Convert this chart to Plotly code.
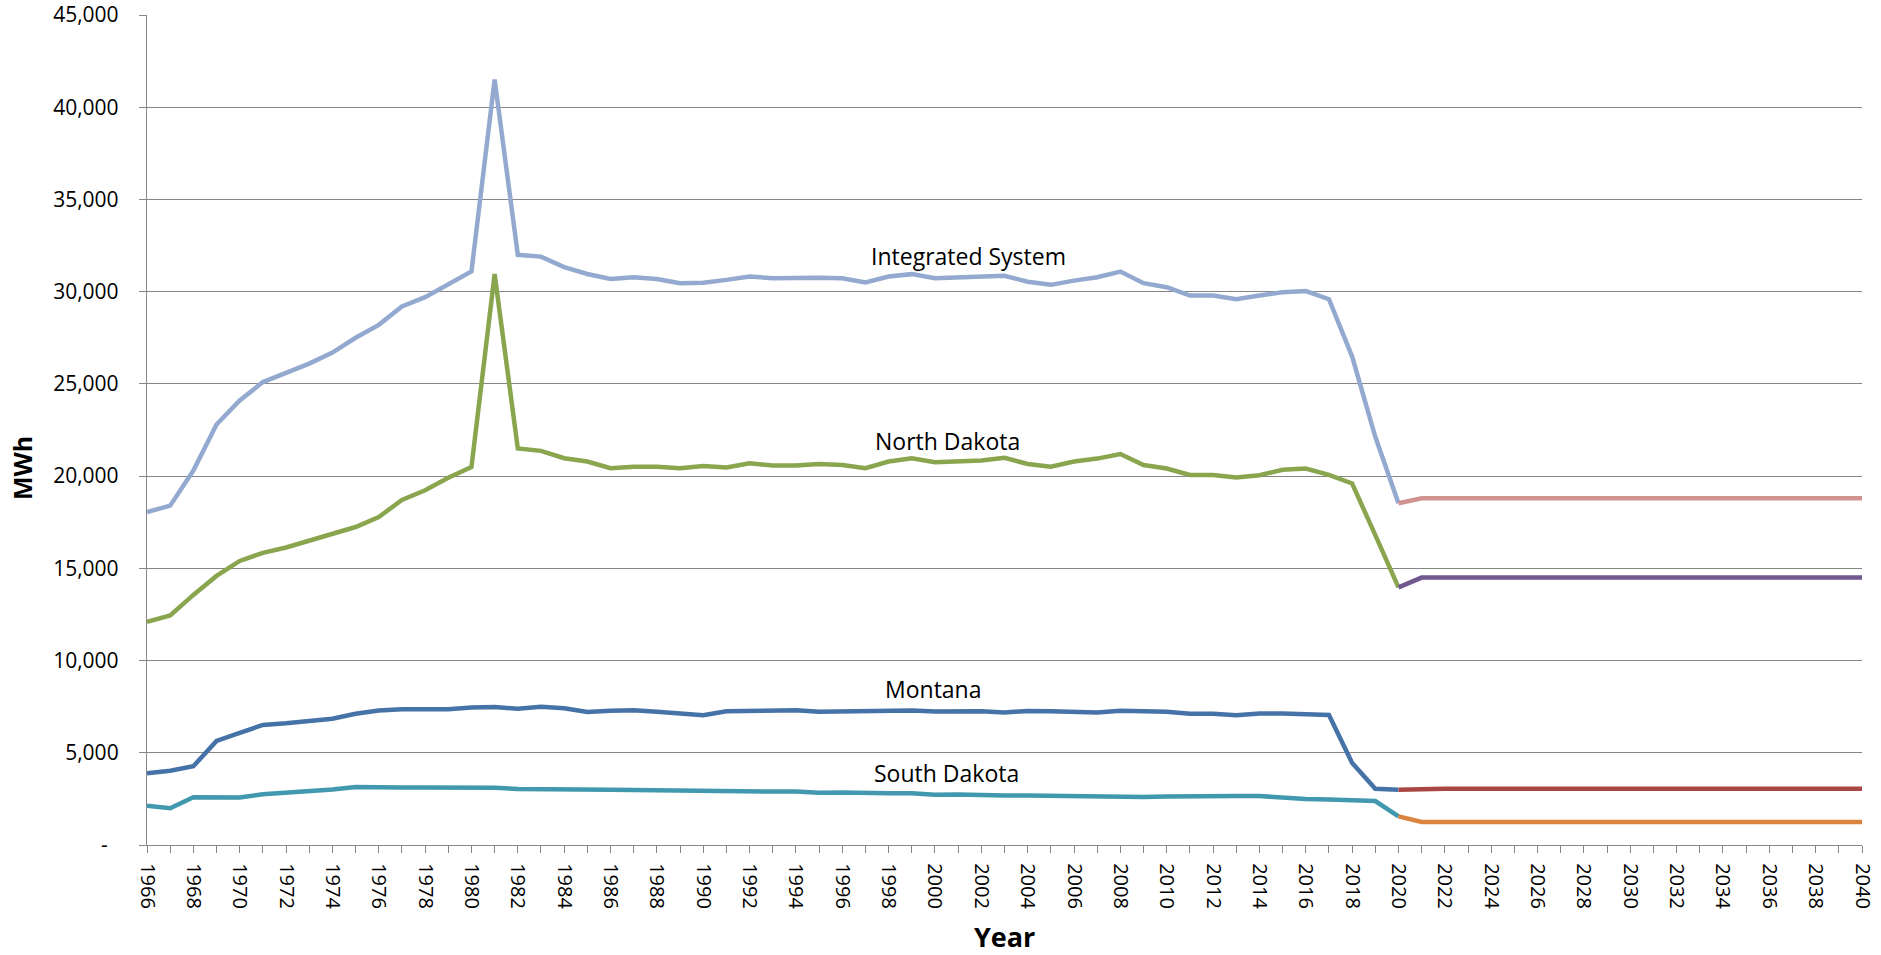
import plotly.graph_objects as go

# ---------------- data ----------------
years_hist = list(range(1966, 2021))
years_proj = list(range(2020, 2041))

integrated_system = [
    18050, 18400, 20300, 22800, 24100, 25100, 25600, 26100, 26700, 27500,
    28200, 29200, 29700, 30400, 31100, 41500, 32000, 31900, 31330, 30960,
    30690, 30780, 30690, 30460, 30480, 30640, 30820, 30730, 30760, 30760,
    30730, 30500, 30820, 30950, 30730, 30780, 30800, 30860, 30540, 30370,
    30600, 30780, 31090, 30460, 30240, 29790, 29790, 29590, 29790, 29970,
    30030, 29590, 26480, 22130, 18530]
north_dakota = [
    12100, 12450, 13560, 14590, 15400, 15840, 16130, 16520, 16850, 17240,
    17780, 18710, 19230, 19910, 20490, 30950, 21500, 21370, 20970, 20790,
    20430, 20510, 20510, 20430, 20550, 20470, 20690, 20570, 20570, 20660,
    20600, 20430, 20790, 20970, 20750, 20800, 20850, 20990, 20660, 20510,
    20790, 20950, 21200, 20600, 20410, 20060, 20060, 19920, 20050, 20340,
    20410, 20070, 19600, 16800, 13970]
montana = [
    3890, 4030, 4270, 5640, 6080, 6510, 6600, 6700, 6850, 7120,
    7290, 7360, 7360, 7360, 7460, 7480, 7390, 7490, 7410, 7210,
    7280, 7300, 7230, 7100, 7030, 7250, 7270, 7270, 7300, 7230,
    7240, 7260, 7320, 7290, 7240, 7260, 7250, 7190, 7270, 7250,
    7220, 7190, 7280, 7280, 7230, 7110, 7120, 7030, 7130, 7130,
    7120, 7050, 4450, 3050, 3000]
south_dakota = [
    2130, 1990, 2590, 2610, 2570, 2750, 2840, 2880, 3010, 3140,
    3110, 3120, 3120, 3120, 3140, 3100, 3040, 3020, 2970, 2970,
    2990, 2980, 2960, 2930, 2930, 2950, 2910, 2900, 2900, 2830,
    2850, 2810, 2800, 2810, 2720, 2740, 2690, 2690, 2680, 2660,
    2620, 2640, 2630, 2600, 2630, 2620, 2620, 2650, 2650, 2560,
    2500, 2470, 2450, 2380, 1550]

integrated_system_proj = [18530, 18800, 18800, 18800, 18800, 18800, 18800,
                          18800, 18800, 18800, 18800, 18800, 18800, 18800,
                          18800, 18800, 18800, 18800, 18800, 18800, 18800]
north_dakota_proj = [13970, 14500, 14500, 14500, 14500, 14500, 14500,
                     14500, 14500, 14500, 14500, 14500, 14500, 14500,
                     14500, 14500, 14500, 14500, 14500, 14500, 14500]
montana_proj = [3000, 3050, 3050, 3050, 3050, 3050, 3050,
                3050, 3050, 3050, 3050, 3050, 3050, 3050,
                3050, 3050, 3050, 3050, 3050, 3050, 3050]
south_dakota_proj = [1550, 1250, 1250, 1250, 1250, 1250, 1250,
                     1250, 1250, 1250, 1250, 1250, 1250, 1250,
                     1250, 1250, 1250, 1250, 1250, 1250, 1250]

y_tickvals = [0, 5000, 10000, 15000, 20000, 25000, 30000, 35000, 40000, 45000]
y_ticktext = ["-\u00a0\u00a0", "5,000", "10,000", "15,000", "20,000", "25,000",
              "30,000", "35,000", "40,000", "45,000"]
x_tickvals = list(range(1966, 2041, 2))
x_ticktext = [str(v) for v in x_tickvals]

series_labels = ["Integrated System", "North Dakota", "Montana", "South Dakota"]
x_title = "Year"
y_title = "MWh"

# ---------------- styling ----------------
FONT = "Open Sans"
GRID = "#868686"
LW = 4.5
W, H = 1881, 955
L, R, T, B = 147, 19, 15, 110
pw, ph = W - L - R, H - T - B

hist = [
    (integrated_system, "#93A9CF"),
    (north_dakota, "#89A54E"),
    (montana, "#4572A7"),
    (south_dakota, "#4198AF"),
]
proj = [
    (integrated_system_proj, "#D19392"),
    (north_dakota_proj, "#71588F"),
    (montana_proj, "#AA4643"),
    (south_dakota_proj, "#DB843D"),
]

fig = go.Figure()
for (vals, col), name in zip(hist, series_labels):
    fig.add_trace(go.Scatter(x=years_hist, y=vals, mode="lines", name=name,
                             line=dict(color=col, width=LW),
                             showlegend=False))
for (vals, col), name in zip(proj, series_labels):
    fig.add_trace(go.Scatter(x=years_proj, y=vals, mode="lines",
                             name=name + " (projected)",
                             line=dict(color=col, width=LW),
                             showlegend=False))

label_pos = [(2001.45, 31940), (2000.55, 21930), (1999.95, 8460), (2000.5, 3920)]
for text, (lx, ly) in zip(series_labels, label_pos):
    fig.add_annotation(x=lx, y=ly, xref="x", yref="y", text=text,
                       showarrow=False, xanchor="center", yanchor="middle",
                       font=dict(family=FONT, size=23, color="#000000"))

# axis titles (placed in pixels, converted to paper coordinates)
fig.add_annotation(x=0.5, y=(H - B - 936) / ph, xref="paper", yref="paper",
                   text=f"<b>{x_title}</b>", showarrow=False,
                   xanchor="center", yanchor="middle",
                   font=dict(family=FONT, size=27, color="#000000"))
fig.add_annotation(x=(22 - L) / pw, y=(H - B - 468) / ph, xref="paper", yref="paper",
                   text=f"<b>{y_title}</b>", showarrow=False, textangle=-90,
                   xanchor="center", yanchor="middle",
                   font=dict(family=FONT, size=25, color="#000000"))

fig.update_layout(
    width=W, height=H,
    margin=dict(l=L, r=R, t=T, b=B),
    paper_bgcolor="white", plot_bgcolor="white",
    font=dict(family=FONT, size=20, color="#000000"),
    showlegend=False,
)

fig.update_xaxes(
    range=[1966, 2040], automargin=False,
    tickmode="array", tickvals=x_tickvals, ticktext=x_ticktext,
    tickangle=90,
    ticks="outside", ticklen=7, tickwidth=1.3, tickcolor=GRID,
    minor=dict(dtick=1, tick0=1966, ticks="outside", ticklen=7,
               tickwidth=1.3, tickcolor=GRID, showgrid=False),
    showgrid=False, zeroline=False,
    showline=True, linecolor=GRID, linewidth=1.3,
    ticklabelstandoff=6,
    tickfont=dict(family=FONT, size=20),
)
fig.update_yaxes(
    range=[0, 45000], automargin=False,
    tickmode="array", tickvals=y_tickvals, ticktext=y_ticktext,
    ticks="outside", ticklen=7, tickwidth=1.3, tickcolor=GRID,
    showgrid=True, gridcolor=GRID, gridwidth=1.3,
    zeroline=False,
    showline=True, linecolor=GRID, linewidth=1.3,
    ticklabelstandoff=16,
    tickfont=dict(family=FONT, size=21),
)

fig.write_html("out.html",
               config={"displayModeBar": False},
               post_script="document.body.style.margin='0';"
                           "document.body.style.overflow='hidden';")
